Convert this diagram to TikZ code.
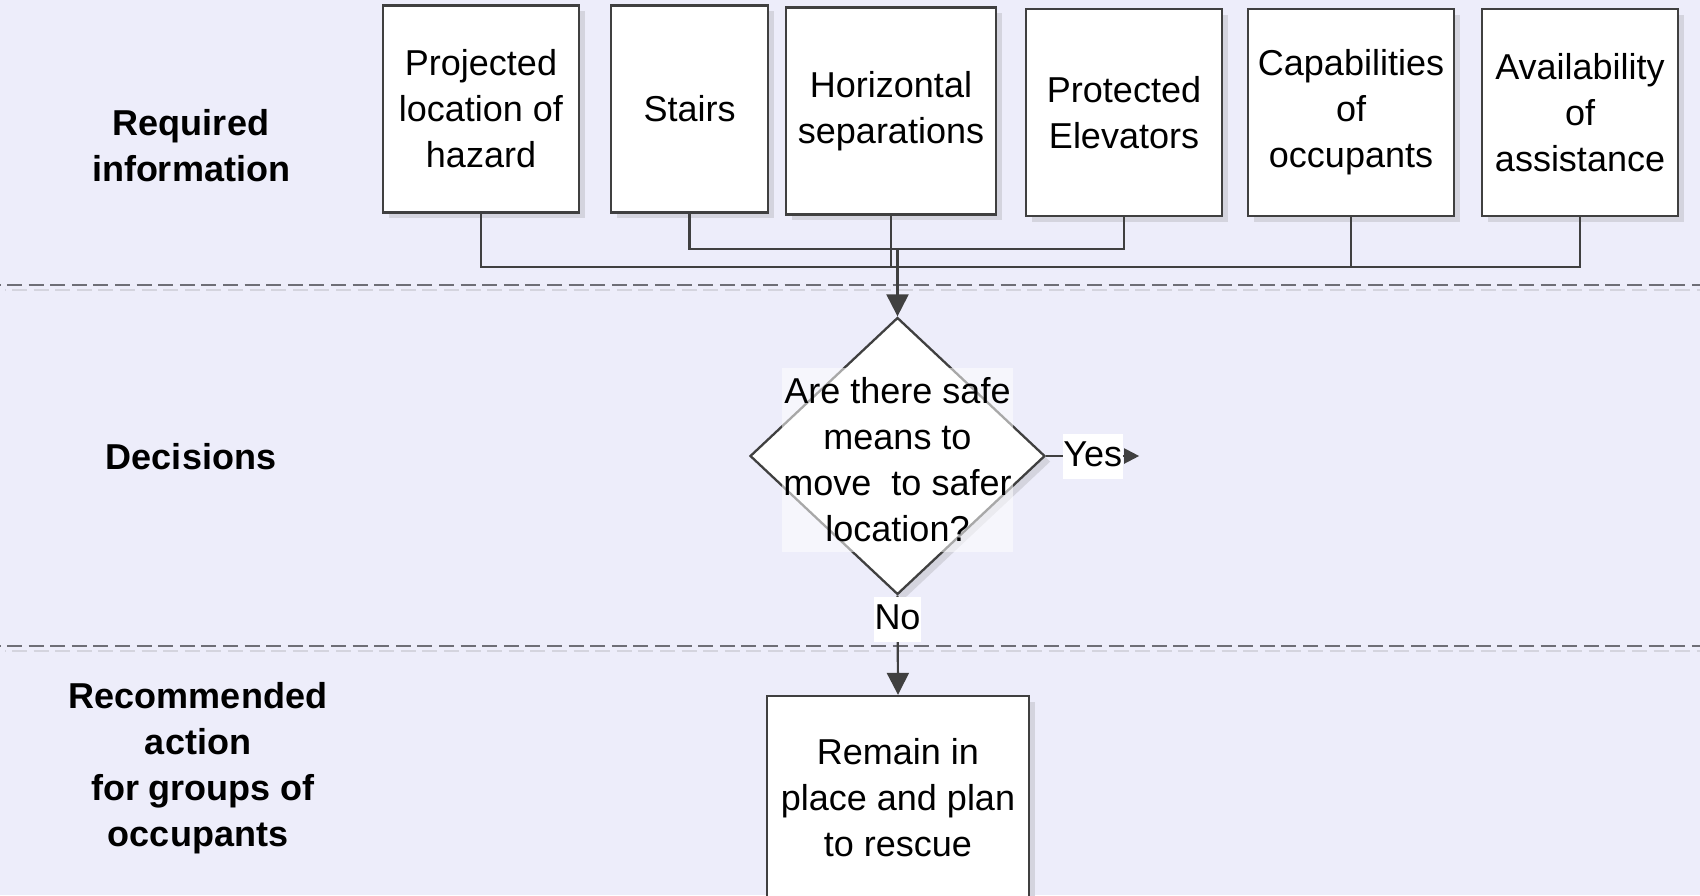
\documentclass[tikz,border=0pt]{standalone}
\usepackage{fontspec}
\setmainfont{Liberation Sans}
\usetikzlibrary{shapes.geometric,arrows.meta,shadows}
\definecolor{bg}{RGB}{237,237,250}
\definecolor{ln}{RGB}{64,64,64}
\definecolor{shd}{RGB}{212,212,222}
\definecolor{dsh}{RGB}{110,110,118}
\begin{document}
\begin{tikzpicture}[x=0.5pt,y=-0.5pt,
  every node/.style={font=\fontsize{18}{23}\selectfont, text=black},
  infobox/.style={draw=ln, line width=1.2pt, fill=white, align=center, inner sep=0pt,
    drop shadow={shadow xshift=2.8pt, shadow yshift=-2.8pt, fill=shd, opacity=1}},
  lanelabel/.style={font=\fontsize{18}{23}\selectfont\bfseries, align=center},
  conn/.style={draw=ln, line width=1.1pt, line cap=rect},
  arr/.style={draw=ln, line width=1.1pt, -{Triangle[length=11pt,width=11pt]}},
  lane/.style={draw=dsh, line width=0.9pt, dash pattern=on 7.5pt off 3.3pt, dash phase=-3.5pt},
  laneshadow/.style={draw=shd, line width=0.9pt, dash pattern=on 7.5pt off 3.3pt, dash phase=-3.5pt},
  tag/.style={fill=white, inner xsep=0.3pt, inner ysep=2pt, text height=14.5pt, text depth=4pt}
]
\useasboundingbox (0,0) rectangle (1700,895);
\fill[bg] (0,0) rectangle (1700,895);
\clip (0,0) rectangle (1700,895);

% swimlane separators
\draw[laneshadow] (5,290) -- (1705,290);
\draw[lane] (0,285) -- (1700,285);
\draw[laneshadow] (5,651) -- (1705,651);
\draw[lane] (0,646) -- (1700,646);

% lane labels
\node[lanelabel] (l1) at (191,146) {Required\\information};
\node[lanelabel] (l2) at (191,457) {Decisions};
\node[lanelabel] (l3) at (198,768) {Recommended\\action\\~for groups of\\occupants};

% required information boxes
\node[infobox, minimum width=98pt, minimum height=103.5pt] (hz) at (481,109) {Projected\\location of\\hazard};
\node[infobox, minimum width=78.5pt, minimum height=103.5pt] (st) at (689.5,109) {Stairs};
\node[infobox, minimum width=105pt, minimum height=103.5pt] (hs) at (891,111) {Horizontal\\separations};
\node[infobox, minimum width=98pt, minimum height=103.5pt] (pe) at (1124,112.5) {Protected\\Elevators};
\node[infobox, minimum width=103pt, minimum height=103.5pt] (cap) at (1351,112.5) {Capabilities\\of\\occupants};
\node[infobox, minimum width=98pt, minimum height=103.5pt] (av) at (1580,112.5) {Availability\\of\\assistance};

% decision
\node[diamond, draw=ln, line width=1.15pt, fill=white, inner sep=0pt,
      minimum width=147.5pt, minimum height=138.5pt,
      drop shadow={shadow xshift=2.8pt, shadow yshift=-2.8pt, fill=shd, opacity=1}] (dia) at (897.5,456) {};
\node[fill=white, fill opacity=0.55, text opacity=1, inner sep=0pt, align=center,
      minimum width=115.5pt, minimum height=92pt] (q) at (897.5,460)
      {Are there safe\\means to\\move~ to safer\\location?};

% action
\node[infobox, minimum width=131pt, minimum height=102pt] (rem) at (898,798) {Remain in\\place and plan\\to rescue};

% connectors
\coordinate (j1) at (897.5,249);
\coordinate (j2) at (897.5,267);
\draw[conn] (hz.south) |- (j2);
\draw[conn] (hs.south) |- (j2);
\draw[conn] (cap.south) |- (j2);
\draw[conn] (av.south) |- (j2);
\draw[conn] (st.south) |- (j1);
\draw[conn] (pe.south) |- (j1);
\draw[arr] (j1) -- (dia.north);

\coordinate (yend) at ([xshift=46.5pt]dia.east);
\draw[draw=ln, line width=1.1pt, -{Triangle[length=7.5pt,width=7.5pt]}] (dia.east) -- node[tag, pos=0.5] (yes) {Yes} (yend);
\draw[arr] (dia.south) -- node[tag, at start, anchor=north] (no) {No} (rem.north);
\end{tikzpicture}
\end{document}
